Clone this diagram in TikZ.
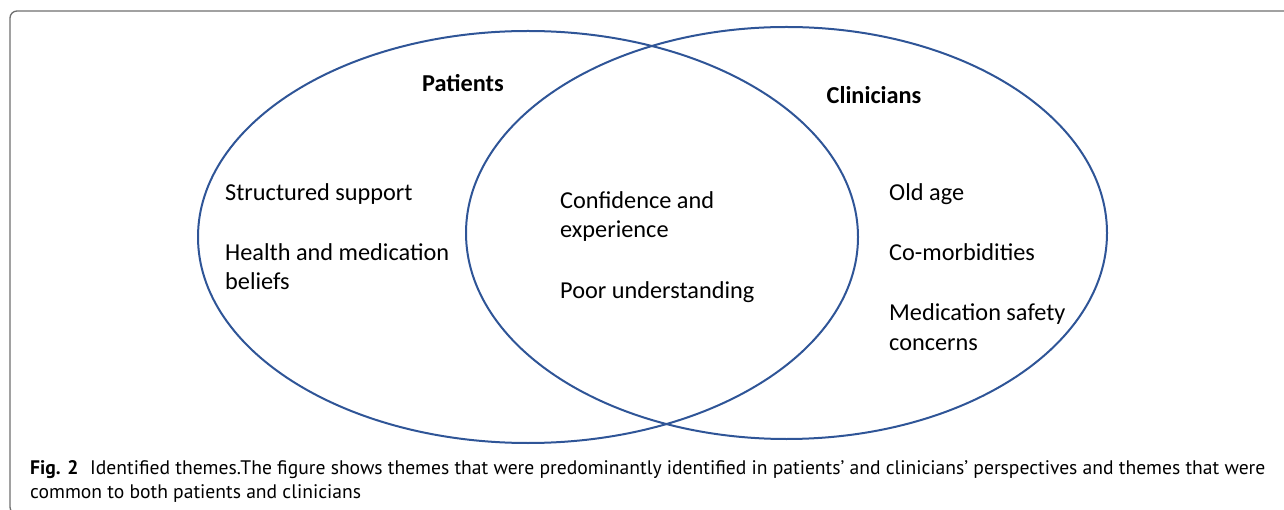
\documentclass[tikz,border=0pt]{standalone}
\usepackage{fontspec}
\setmainfont{Carlito}
\newfontfamily\capfont{PT Sans}
\usetikzlibrary{shapes.geometric}
\definecolor{vennblue}{HTML}{2F5597}
\definecolor{framegray}{HTML}{6E6E6E}

\begin{document}
\begin{tikzpicture}[x=1pt, y=-1pt, every node/.style={inner sep=0pt, font=\fontsize{24.3}{29.5}\selectfont}]
\tikzset{set/.style={draw=vennblue, line width=2pt, ellipse, minimum width=#1},
  theme/.style={anchor=base west, align=left},
  head/.style={anchor=base, font=\fontsize{24.3}{29.5}\selectfont\bfseries}}
\useasboundingbox (0,0) rectangle (1284,510);
\clip (0,0) rectangle (1284,510);

\draw[framegray, line width=1.3pt, rounded corners=7pt] (10,11) rectangle (1310,514);

\node[set=660pt, minimum height=412pt] (patientset) at (528,237) {};
\node[set=641pt, minimum height=412pt] (clinicianset) at (786.5,233) {};

\node[head] (patients) at (463,92) {Patients};
\node[head] (clinicians) at (874,104) {Clinicians};

\node[theme] (support) at (225,201) {Structured support};
\node[theme] (beliefs) at (225,290) {Health and medication\\beliefs};

\node[theme] (confidence) at (560,238) {Confidence and\\experience};
\node[theme] (understanding) at (560,299) {Poor understanding};

\node[theme] (oldage) at (889,201) {Old age};
\node[theme] (comorbid) at (889,261) {Co-morbidities};
\node[theme] (safety) at (889,350) {Medication safety\\concerns};

\node[theme, font=\capfont\fontsize{19.6}{24}\selectfont] (caption) at (30,498)
  {\textbf{Fig. 2}\hspace{0.6em}Identified themes.The figure shows themes that were predominantly identified in patients’ and clinicians’ perspectives and themes that were\\common to both patients and clinicians};

\end{tikzpicture}
\end{document}
